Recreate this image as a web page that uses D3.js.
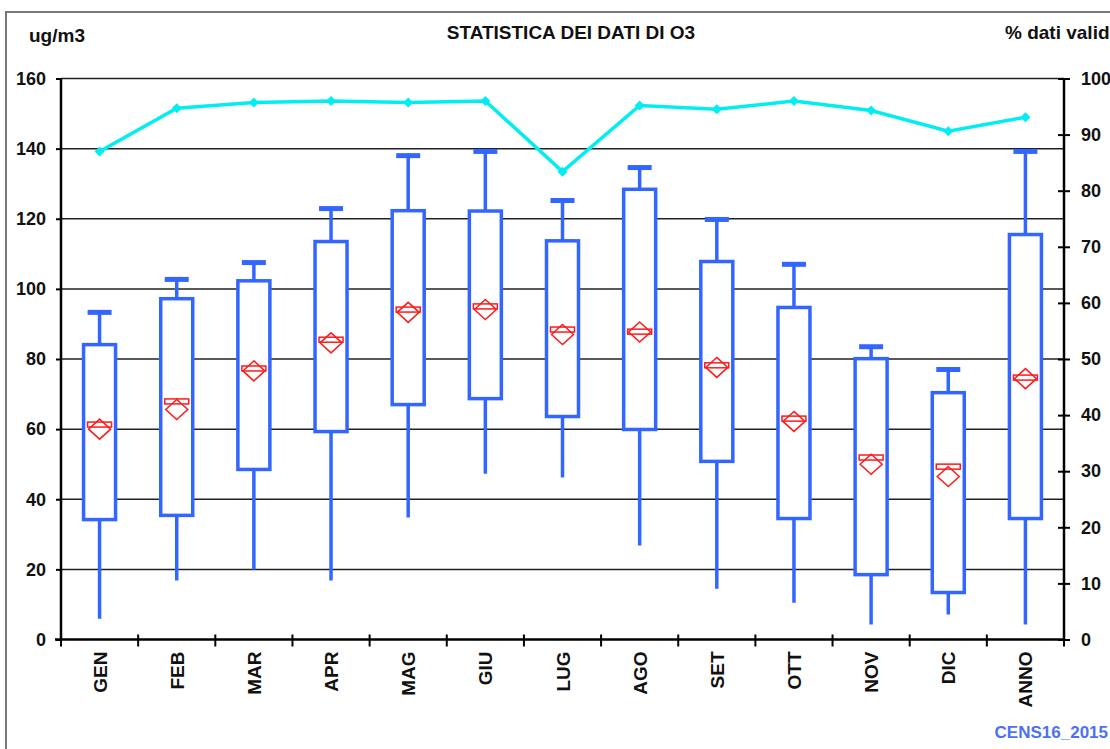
<!DOCTYPE html>
<html>
<head>
<meta charset="utf-8">
<script src="https://cdn.jsdelivr.net/npm/d3@7"></script>
<style>
  body { margin: 0; background: #fff; }
  svg { display: block; font-family: "Liberation Sans", Arial, sans-serif; font-weight: bold; }
</style>
</head>
<body>
<div id="chart"></div>
<script>
let width = 1110;
let height = 749;
let margin = { top: 78.5, bottom: 109.5, left: 61, right: 46 };

// monthly O3 statistics (ug/m3) and % of valid data
const months = ["GEN", "FEB", "MAR", "APR", "MAG", "GIU", "LUG", "AGO", "SET", "OTT", "NOV", "DIC", "ANNO"];
const maxVal = [93.3, 102.7, 107.5, 122.9, 138, 139.2, 125.2, 134.6, 119.8, 107, 83.5, 77, 139.2];
const q3Val = [84.1, 97.2, 102.3, 113.5, 122.3, 122.2, 113.7, 128.4, 107.8, 94.7, 80.1, 70.4, 115.5];
const q1Val = [34.2, 35.4, 48.5, 59.3, 67, 68.7, 63.6, 59.9, 50.8, 34.5, 18.5, 13.4, 34.5];
const minVal = [5.9, 16.8, 20, 16.8, 34.8, 47.3, 46.2, 26.8, 14.5, 10.5, 4.3, 7.1, 4.3];
const medianVal = [61.3, 67.9, 77.3, 85.5, 94.1, 95, 88.4, 87.8, 78.2, 63, 51.9, 49.3, 74.7];
const meanVal = [60, 65.6, 76.6, 84.6, 93.3, 94.1, 87, 87.7, 77.6, 62.2, 50, 46.5, 74.4];
const validPct = [87, 94.7, 95.7, 96, 95.7, 96, 83.4, 95.2, 94.5, 96, 94.3, 90.6, 93.1];

const leftTicks = [0, 20, 40, 60, 80, 100, 120, 140, 160];
const rightTicks = [0, 10, 20, 30, 40, 50, 60, 70, 80, 90, 100];

const boxColor = "#3366ff";
const lineColor = "#00eef2";
const markColor = "#ff1a1a";

let svg = d3
  .select("#chart")
  .append("svg")
  .attr("width", width)
  .attr("height", height);

// outer frame (cut by the page on right and bottom)
svg.append("rect")
  .attr("x", 6).attr("y", 12)
  .attr("width", width + 20).attr("height", height + 20)
  .attr("fill", "none")
  .attr("stroke", "#777")
  .attr("stroke-width", 2);

let x = d3.scaleBand()
  .domain(months)
  .range([margin.left, width - margin.right]);
let y = d3.scaleLinear().domain([0, 160]).range([height - margin.bottom, margin.top]);
let y2 = d3.scaleLinear().domain([0, 100]).range([height - margin.bottom, margin.top]);

let x0 = margin.left, x1 = width - margin.right;
let yb = height - margin.bottom;

// gridlines
svg.append("g")
  .selectAll("line")
  .data(leftTicks.slice(1))
  .enter()
  .append("line")
  .attr("x1", x0).attr("x2", x1)
  .attr("y1", (d) => y(d)).attr("y2", (d) => y(d))
  .attr("stroke", "#222")
  .attr("stroke-width", 1.5);

// left axis
let gl = svg.append("g").attr("transform", `translate(${x0},0)`);
gl.call(d3.axisLeft(y).tickValues(leftTicks).tickSize(5).tickPadding(10))
  .call((g) => g.select(".domain").remove());
gl.selectAll(".tick line").attr("stroke", "#000").attr("stroke-width", 2);
gl.selectAll(".tick text").attr("fill", "#111").style("font-size", "18px").style("font-weight", "bold")
  .style("font-family", "Liberation Sans, Arial, sans-serif");

// right axis
let gr = svg.append("g").attr("transform", `translate(${x1},0)`);
gr.call(d3.axisRight(y2).tickValues(rightTicks).tickSize(6).tickPadding(11))
  .call((g) => g.select(".domain").remove());
gr.selectAll(".tick line").attr("x1", -6).attr("stroke", "#000").attr("stroke-width", 2);
gr.selectAll(".tick text").attr("fill", "#111").style("font-size", "18px").style("font-weight", "bold")
  .style("font-family", "Liberation Sans, Arial, sans-serif");

// axis lines
svg.append("line").attr("x1", x0).attr("x2", x0).attr("y1", margin.top).attr("y2", yb)
  .attr("stroke", "#000").attr("stroke-width", 2.5);
svg.append("line").attr("x1", x1).attr("x2", x1).attr("y1", margin.top).attr("y2", yb)
  .attr("stroke", "#000").attr("stroke-width", 2.5);
svg.append("line").attr("x1", x0 - 6).attr("x2", x1).attr("y1", yb).attr("y2", yb)
  .attr("stroke", "#000").attr("stroke-width", 2.5);

// bottom ticks between categories
let bounds = months.map((m) => x(m)).concat([x1]);
svg.append("g")
  .selectAll("line")
  .data(bounds)
  .enter()
  .append("line")
  .attr("x1", (d) => d).attr("x2", (d) => d)
  .attr("y1", yb - 5).attr("y2", yb + 7)
  .attr("stroke", "#000").attr("stroke-width", 2);

// category labels
svg.append("g")
  .selectAll("text")
  .data(months)
  .enter()
  .append("text")
  .attr("transform", (d) => `translate(${x(d) + x.bandwidth() / 2 + 7},${yb + 12}) rotate(-90)`)
  .attr("text-anchor", "end")
  .style("font-size", "19px")
  .attr("fill", "#111")
  .text((d) => d);

// boxes
let bw = 32, capW = 24;
let boxes = svg.append("g")
  .selectAll("g")
  .data(months)
  .enter()
  .append("g");

boxes.append("line")
  .attr("x1", (d) => x(d) + x.bandwidth() / 2)
  .attr("x2", (d) => x(d) + x.bandwidth() / 2)
  .attr("y1", (d, i) => y(minVal[i]))
  .attr("y2", (d, i) => y(maxVal[i]))
  .attr("stroke", boxColor).attr("stroke-width", 3.5);

boxes.append("rect")
  .attr("x", (d) => x(d) + x.bandwidth() / 2 - capW / 2)
  .attr("y", (d, i) => y(maxVal[i]) - 2.5)
  .attr("width", capW).attr("height", 5)
  .attr("fill", boxColor);

boxes.append("rect")
  .attr("x", (d) => x(d) + x.bandwidth() / 2 - bw / 2)
  .attr("y", (d, i) => y(q3Val[i]))
  .attr("width", bw)
  .attr("height", (d, i) => y(q1Val[i]) - y(q3Val[i]))
  .attr("fill", "#fff")
  .attr("stroke", boxColor).attr("stroke-width", 3.5);

// median bar
boxes.append("rect")
  .attr("x", (d) => x(d) + x.bandwidth() / 2 - 12)
  .attr("y", (d, i) => y(medianVal[i]) - 2.5)
  .attr("width", 24).attr("height", 5)
  .attr("fill", "none")
  .attr("stroke", markColor).attr("stroke-width", 1.5);

// mean diamond
boxes.append("path")
  .attr("d", (d, i) => {
    let cx = x(d) + x.bandwidth() / 2, cy = y(meanVal[i]);
    return `M${cx},${cy - 10}L${cx + 11},${cy}L${cx},${cy + 10}L${cx - 11},${cy}Z`;
  })
  .attr("fill", "none")
  .attr("stroke", markColor).attr("stroke-width", 1.5);

// % valid data line
let line = d3.line()
  .x((d, i) => x(months[i]) + x.bandwidth() / 2)
  .y((d) => y2(d));
svg.append("path")
  .datum(validPct)
  .attr("d", line)
  .attr("fill", "none")
  .attr("stroke", lineColor).attr("stroke-width", 3.5);
svg.append("g")
  .selectAll("path")
  .data(validPct)
  .enter()
  .append("path")
  .attr("d", (d, i) => {
    let cx = x(months[i]) + x.bandwidth() / 2, cy = y2(d);
    return `M${cx},${cy - 5}L${cx + 5},${cy}L${cx},${cy + 5}L${cx - 5},${cy}Z`;
  })
  .attr("fill", lineColor);

// titles
svg.append("text").attr("x", 571).attr("y", 39).attr("text-anchor", "middle")
  .style("font-size", "19px").attr("fill", "#111").text("STATISTICA DEI DATI DI O3");
svg.append("text").attr("x", 29).attr("y", 42)
  .style("font-size", "19px").attr("fill", "#111").text("ug/m3");
svg.append("text").attr("x", 1005).attr("y", 39)
  .style("font-size", "19px").attr("fill", "#111").text("% dati validi");
svg.append("text").attr("x", 1108).attr("y", 738).attr("text-anchor", "end")
  .style("font-size", "17px").attr("fill", "#4d6ff5").text("CENS16_2015");
</script>
</body>
</html>
